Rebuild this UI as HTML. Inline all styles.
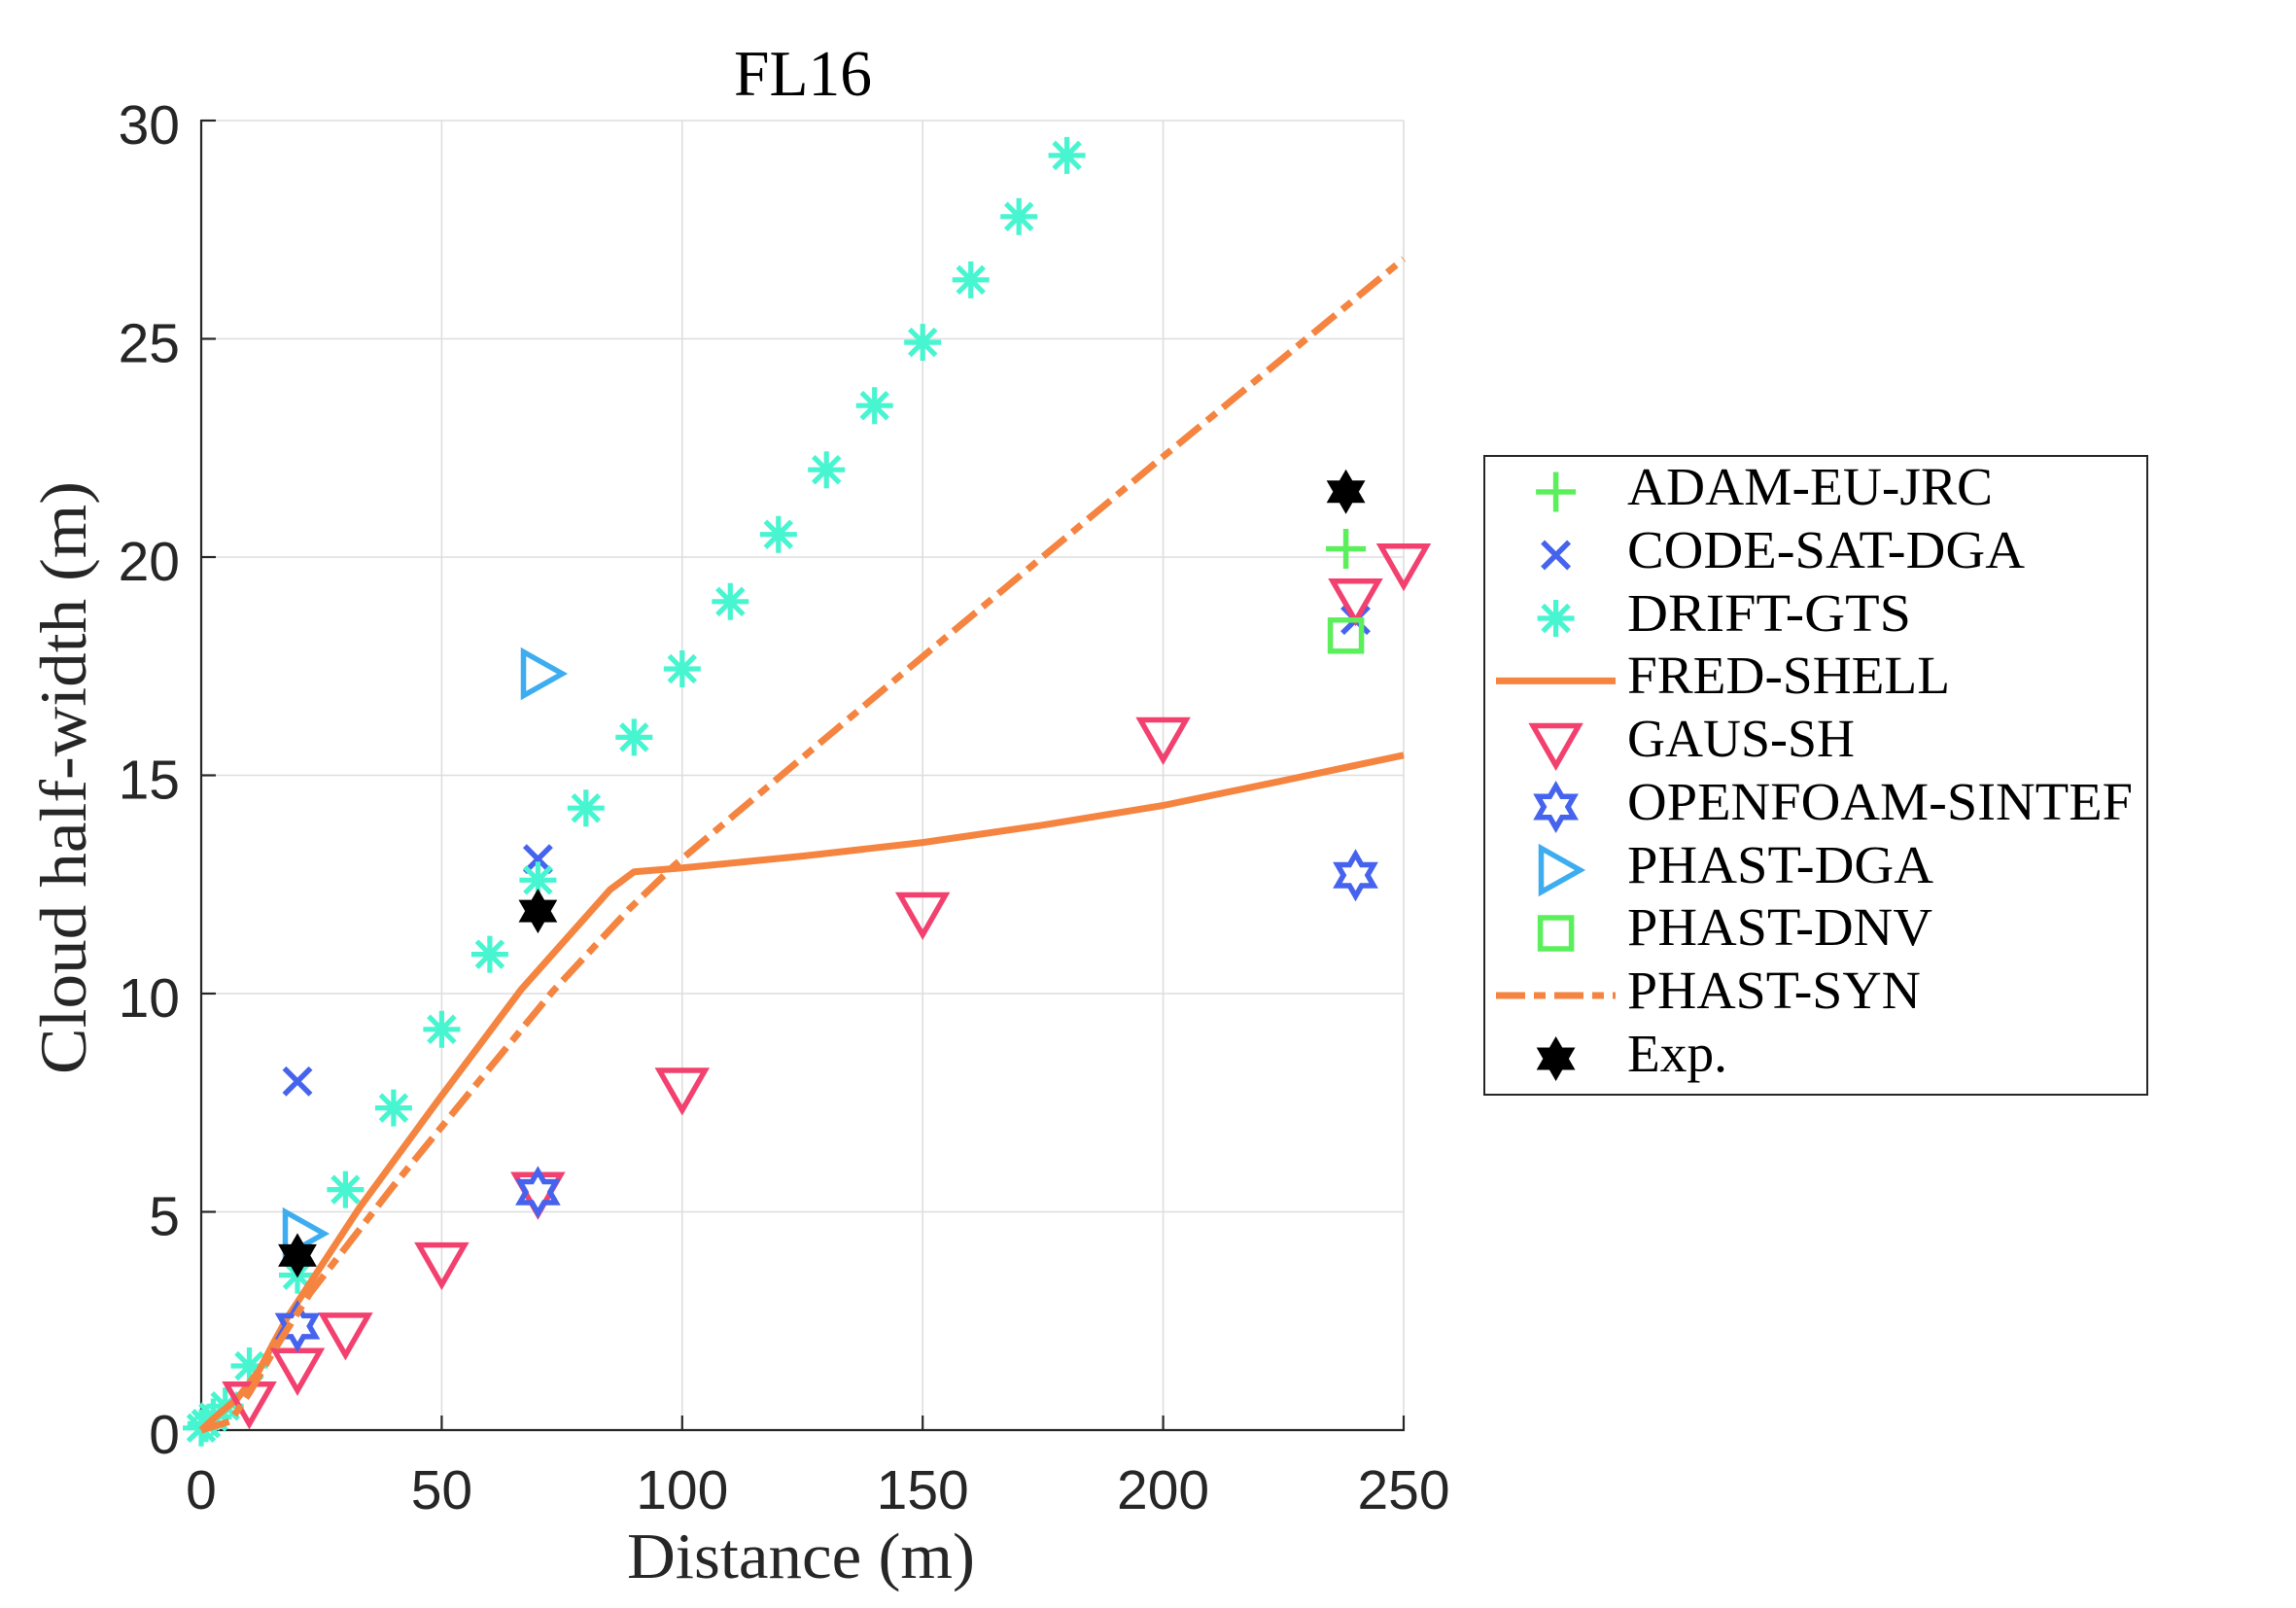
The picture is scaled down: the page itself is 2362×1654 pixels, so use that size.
<!DOCTYPE html>
<html>
<head>
<meta charset="utf-8">
<style>
  html, body { margin: 0; padding: 0; background: #ffffff; }
  svg { display: block; }
</style>
</head>
<body>
<svg width="2362" height="1654" viewBox="0 0 2362 1654" xmlns="http://www.w3.org/2000/svg">
  <defs>
    <path id="pl" d="M-20.5,0H20.5M0,-20.5V20.5" fill="none" stroke="#5BEF5B" stroke-width="5.5"/>
    <path id="xm" d="M-13.5,-13.5L13.5,13.5M-13.5,13.5L13.5,-13.5" fill="none" stroke="#4663EE" stroke-width="5.5"/>
    <path id="as" d="M-19,0H19M0,-19V19M-13.4,-13.4L13.4,13.4M-13.4,13.4L13.4,-13.4" fill="none" stroke="#47F5D0" stroke-width="5.2"/>
    <path id="tv" d="M-23.5,-13.5H23.5L0,27.5Z" fill="none" stroke="#F2416F" stroke-width="5.5" stroke-linejoin="miter"/>
    <path id="ho" d="M0,-21.5L6.2,-10.75L18.6,-10.75L12.4,0L18.6,10.75L6.2,10.75L0,21.5L-6.2,10.75L-18.6,10.75L-12.4,0L-18.6,-10.75L-6.2,-10.75Z" fill="none" stroke="#4663EE" stroke-width="5.5"/>
    <path id="tr" d="M-12.5,-22.5L27.5,0L-12.5,22.5Z" fill="none" stroke="#3DADF0" stroke-width="5.5"/>
    <rect id="sq" x="-16" y="-16" width="32" height="32" fill="none" stroke="#5BEF5B" stroke-width="5.5"/>
    <path id="hf" d="M0,-22L6.35,-11L19.05,-11L12.7,0L19.05,11L6.35,11L0,22L-6.35,11L-19.05,11L-12.7,0L-19.05,-11L-6.35,-11Z" fill="#000000" stroke="#000000" stroke-width="1"/>
  </defs>

  <!-- grid -->
  <g stroke="#dedede" stroke-width="1.6">
    <line x1="207" y1="124" x2="207" y2="1471"/>
    <line x1="454.4" y1="124" x2="454.4" y2="1471"/>
    <line x1="701.8" y1="124" x2="701.8" y2="1471"/>
    <line x1="949.2" y1="124" x2="949.2" y2="1471"/>
    <line x1="1196.6" y1="124" x2="1196.6" y2="1471"/>
    <line x1="1444" y1="124" x2="1444" y2="1471"/>
    <line x1="207" y1="124" x2="1444" y2="124"/>
    <line x1="207" y1="348.5" x2="1444" y2="348.5"/>
    <line x1="207" y1="573" x2="1444" y2="573"/>
    <line x1="207" y1="797.5" x2="1444" y2="797.5"/>
    <line x1="207" y1="1022" x2="1444" y2="1022"/>
    <line x1="207" y1="1246.5" x2="1444" y2="1246.5"/>
  </g>

  <!-- axes -->
  <g stroke="#262626" stroke-width="2.2" fill="none">
    <line x1="207" y1="123" x2="207" y2="1472"/>
    <line x1="206" y1="1471" x2="1445" y2="1471"/>
    <line x1="207" y1="124" x2="222" y2="124"/>
    <line x1="207" y1="348.5" x2="222" y2="348.5"/>
    <line x1="207" y1="573" x2="222" y2="573"/>
    <line x1="207" y1="797.5" x2="222" y2="797.5"/>
    <line x1="207" y1="1022" x2="222" y2="1022"/>
    <line x1="207" y1="1246.5" x2="222" y2="1246.5"/>
    <line x1="454.4" y1="1471" x2="454.4" y2="1456"/>
    <line x1="701.8" y1="1471" x2="701.8" y2="1456"/>
    <line x1="949.2" y1="1471" x2="949.2" y2="1456"/>
    <line x1="1196.6" y1="1471" x2="1196.6" y2="1456"/>
    <line x1="1444" y1="1471" x2="1444" y2="1456"/>
  </g>

  <!-- tick labels -->
  <g font-family="'Liberation Sans', Arial, sans-serif" font-size="57" fill="#262626">
    <g text-anchor="end">
      <text x="185" y="148">30</text>
      <text x="185" y="372.5">25</text>
      <text x="185" y="597">20</text>
      <text x="185" y="821.5">15</text>
      <text x="185" y="1046">10</text>
      <text x="185" y="1270.5">5</text>
      <text x="185" y="1495">0</text>
    </g>
    <g text-anchor="middle">
      <text x="207" y="1552">0</text>
      <text x="454.4" y="1552">50</text>
      <text x="701.8" y="1552">100</text>
      <text x="949.2" y="1552">150</text>
      <text x="1196.6" y="1552">200</text>
      <text x="1444" y="1552">250</text>
    </g>
  </g>

  <!-- title and axis labels -->
  <g font-family="'Liberation Serif', 'Times New Roman', serif" fill="#000000">
    <text x="755" y="98" font-size="67" textLength="142" lengthAdjust="spacingAndGlyphs">FL16</text>
    <text x="645" y="1623" font-size="67" fill="#262626" textLength="358" lengthAdjust="spacingAndGlyphs">Distance (m)</text>
    <text transform="translate(88,1105) rotate(-90)" x="0" y="0" font-size="68" fill="#262626" textLength="610" lengthAdjust="spacingAndGlyphs">Cloud half-width (m)</text>
  </g>

  <!-- ADAM-EU-JRC -->
  <use href="#pl" x="1384.6" y="564.5"/>

  <!-- CODE-SAT-DGA -->
  <use href="#xm" x="306" y="1112.3"/>
  <use href="#xm" x="553.4" y="883.7"/>
  <use href="#xm" x="1394.5" y="637.7"/>

  <!-- DRIFT-GTS -->
  <use href="#as" x="207" y="1468.8"/>
  <use href="#as" x="211.9" y="1464.3"/>
  <use href="#as" x="219.4" y="1457.5"/>
  <use href="#as" x="231.7" y="1446.3"/>
  <use href="#as" x="256.5" y="1405"/>
  <use href="#as" x="306" y="1311.6"/>
  <use href="#as" x="355.4" y="1223.6"/>
  <use href="#as" x="404.9" y="1139.6"/>
  <use href="#as" x="454.4" y="1058.8"/>
  <use href="#as" x="503.9" y="981.6"/>
  <use href="#as" x="553.4" y="905.3"/>
  <use href="#as" x="602.8" y="831.2"/>
  <use href="#as" x="652.3" y="758.4"/>
  <use href="#as" x="701.8" y="688"/>
  <use href="#as" x="751.3" y="618.8"/>
  <use href="#as" x="800.8" y="549.7"/>
  <use href="#as" x="850.2" y="483.2"/>
  <use href="#as" x="899.7" y="417.2"/>
  <use href="#as" x="949.2" y="352.1"/>
  <use href="#as" x="998.7" y="287.9"/>
  <use href="#as" x="1048.2" y="222.8"/>
  <use href="#as" x="1097.6" y="159.9"/>

  <!-- FRED-SHELL -->
  <polyline points="207,1471 219.9,1458.9 243.6,1439.1 266.4,1409.9 281.2,1381.6 295.1,1356.1 370.3,1241.6 452.9,1128.9 536,1018 627.6,915.1 652.3,896.7 701.8,892.7 825.5,880.6 949.2,866.6 1072.9,848.7 1196.6,828.5 1320.3,802.9 1444,776.8" fill="none" stroke="#F4843F" stroke-width="7" stroke-linejoin="round"/>

  <!-- GAUS-SH -->
  <use href="#tv" x="256.5" y="1437.3"/>
  <use href="#tv" x="306" y="1402.8"/>
  <use href="#tv" x="355.4" y="1366.4"/>
  <use href="#tv" x="454.4" y="1294.1"/>
  <use href="#tv" x="553.4" y="1221.8"/>
  <use href="#tv" x="701.8" y="1114.5"/>
  <use href="#tv" x="949.2" y="934"/>
  <use href="#tv" x="1196.6" y="754"/>
  <use href="#tv" x="1394.5" y="611.2"/>
  <use href="#tv" x="1444" y="575.2"/>

  <!-- OPENFOAM-SINTEF -->
  <use href="#ho" x="306" y="1364.1"/>
  <use href="#ho" x="553.4" y="1226.3"/>
  <use href="#ho" x="1394.5" y="900.3"/>

  <!-- PHAST-DGA -->
  <use href="#tr" x="306" y="1269"/>
  <use href="#tr" x="551" y="693"/>

  <!-- PHAST-DNV -->
  <use href="#sq" x="1384.6" y="653.8"/>

  <!-- PHAST-SYN -->
  <polyline points="207,1471 236.7,1462 256.5,1432.8 281.2,1390.2 318.8,1330.5 404.9,1219.6 484.1,1122.6 568.2,1020.2 647.4,934.9 694.4,889.5 741.4,850 949.2,675.4 1196.6,469.7 1444,266.3" fill="none" stroke="#F4843F" stroke-width="7" stroke-dasharray="30,9,12,9"/>

  <!-- Exp. -->
  <use href="#hf" x="306" y="1291.4"/>
  <use href="#hf" x="553.4" y="937.1"/>
  <use href="#hf" x="1384.6" y="505.7"/>

  <!-- legend -->
  <rect x="1527" y="469" width="682" height="657" fill="#ffffff" stroke="#262626" stroke-width="2"/>
  <use href="#pl" x="1600.6" y="506"/>
  <use href="#xm" x="1600.6" y="571"/>
  <use href="#as" x="1600.6" y="636"/>
  <line x1="1539" y1="700.4" x2="1662" y2="700.4" stroke="#F4843F" stroke-width="7"/>
  <use href="#tv" x="1600.6" y="760"/>
  <use href="#ho" x="1600.6" y="830"/>
  <use href="#tr" x="1598" y="895"/>
  <use href="#sq" x="1600.6" y="960"/>
  <line x1="1539" y1="1024" x2="1662" y2="1024" stroke="#F4843F" stroke-width="7" stroke-dasharray="30,9,12,9"/>
  <use href="#hf" x="1600.6" y="1089"/>

  <g font-family="'Liberation Serif', 'Times New Roman', serif" font-size="55" fill="#000000">
    <text x="1674" y="519" textLength="376" lengthAdjust="spacingAndGlyphs">ADAM-EU-JRC</text>
    <text x="1674" y="584" textLength="409" lengthAdjust="spacingAndGlyphs">CODE-SAT-DGA</text>
    <text x="1674" y="649" textLength="292" lengthAdjust="spacingAndGlyphs">DRIFT-GTS</text>
    <text x="1674" y="713" textLength="332" lengthAdjust="spacingAndGlyphs">FRED-SHELL</text>
    <text x="1674" y="778" textLength="234" lengthAdjust="spacingAndGlyphs">GAUS-SH</text>
    <text x="1674" y="843" textLength="520" lengthAdjust="spacingAndGlyphs">OPENFOAM-SINTEF</text>
    <text x="1674" y="908" textLength="315" lengthAdjust="spacingAndGlyphs">PHAST-DGA</text>
    <text x="1674" y="972" textLength="314" lengthAdjust="spacingAndGlyphs">PHAST-DNV</text>
    <text x="1674" y="1037" textLength="302" lengthAdjust="spacingAndGlyphs">PHAST-SYN</text>
    <text x="1674" y="1102" textLength="103" lengthAdjust="spacingAndGlyphs">Exp.</text>
  </g>
</svg>
</body>
</html>
